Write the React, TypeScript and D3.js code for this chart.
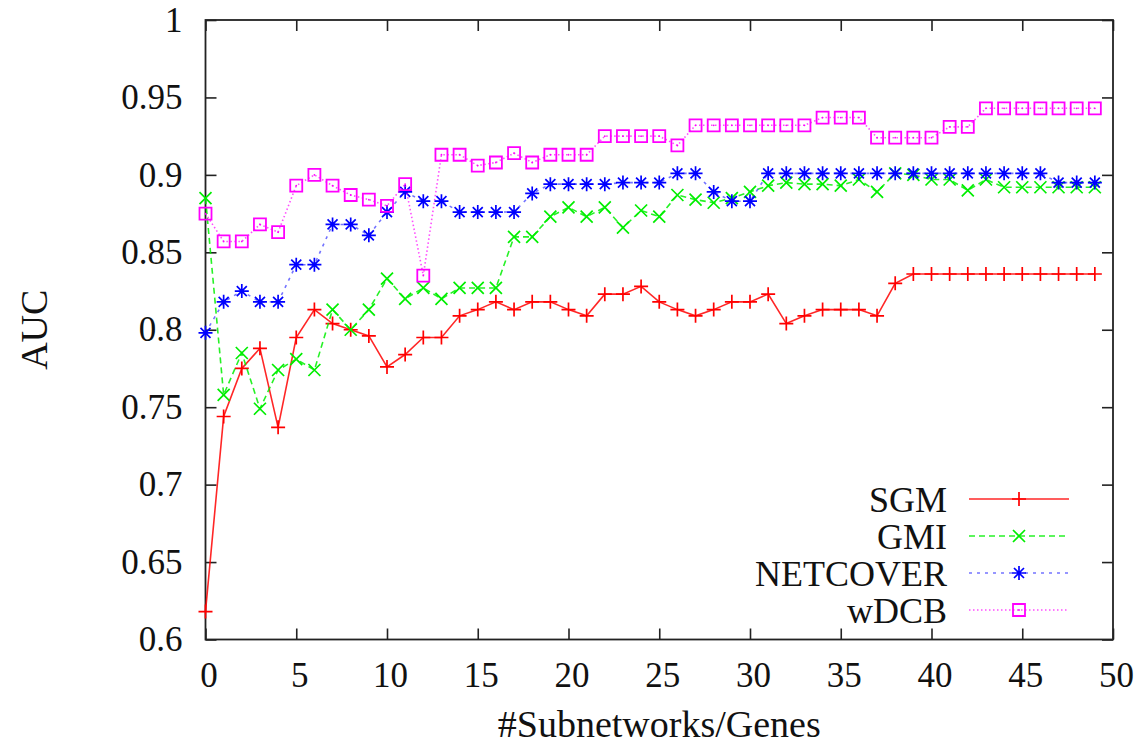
import React, { useEffect, useRef } from "react";
import * as d3 from "d3";

// x positions 0..49
const xs = [
  0, 1, 2, 3, 4, 5, 6, 7, 8, 9, 10, 11, 12, 13, 14, 15, 16, 17, 18, 19, 20, 21, 22, 23, 24,
  25, 26, 27, 28, 29, 30, 31, 32, 33, 34, 35, 36, 37, 38, 39, 40, 41, 42, 43, 44, 45, 46, 47, 48, 49,
];

const sgm = [
  0.618, 0.744, 0.775, 0.788, 0.737, 0.795, 0.813, 0.804, 0.8, 0.796,
  0.776, 0.784, 0.795, 0.795, 0.809, 0.813, 0.818, 0.813, 0.818, 0.818,
  0.813, 0.809, 0.823, 0.823, 0.828, 0.818, 0.813, 0.809, 0.813, 0.818,
  0.818, 0.823, 0.804, 0.809, 0.813, 0.813, 0.813, 0.809, 0.83, 0.836,
  0.836, 0.836, 0.836, 0.836, 0.836, 0.836, 0.836, 0.836, 0.836, 0.836,
];

const gmi = [
  0.885, 0.758, 0.785, 0.749, 0.774, 0.781, 0.774, 0.813, 0.8, 0.813,
  0.833, 0.82, 0.827, 0.82, 0.827, 0.827, 0.827, 0.86, 0.86, 0.873,
  0.879, 0.873, 0.879, 0.866, 0.877, 0.873, 0.887, 0.884, 0.882, 0.885,
  0.889, 0.893, 0.895, 0.894, 0.894, 0.893, 0.897, 0.889, 0.901, 0.9,
  0.897, 0.897, 0.89, 0.897, 0.892, 0.892, 0.892, 0.892, 0.892, 0.892,
];

const netcover = [
  0.798, 0.818, 0.825, 0.818, 0.818, 0.842, 0.842, 0.868, 0.868, 0.861,
  0.876, 0.889, 0.883, 0.883, 0.876, 0.876, 0.876, 0.876, 0.888, 0.894,
  0.894, 0.894, 0.894, 0.895, 0.895, 0.895, 0.901, 0.901, 0.889, 0.883,
  0.883, 0.901, 0.901, 0.901, 0.901, 0.901, 0.901, 0.901, 0.901, 0.901,
  0.901, 0.901, 0.901, 0.901, 0.901, 0.901, 0.901, 0.895, 0.895, 0.895,
];

const wdcb = [
  0.875, 0.857, 0.857, 0.868, 0.863, 0.893, 0.9, 0.893, 0.887, 0.884,
  0.88, 0.894, 0.835, 0.913, 0.913, 0.906, 0.908, 0.914, 0.908, 0.913,
  0.913, 0.913, 0.925, 0.925, 0.925, 0.925, 0.919, 0.932, 0.932, 0.932,
  0.932, 0.932, 0.932, 0.932, 0.937, 0.937, 0.937, 0.924, 0.924, 0.924,
  0.924, 0.931, 0.931, 0.943, 0.943, 0.943, 0.943, 0.943, 0.943, 0.943,
];

const xTicks = [0, 5, 10, 15, 20, 25, 30, 35, 40, 45, 50];
const yTicks = [0.6, 0.65, 0.7, 0.75, 0.8, 0.85, 0.9, 0.95, 1];

const seriesNames = ["SGM", "GMI", "NETCOVER", "wDCB"];

const FONT = "'Liberation Serif', 'Times New Roman', serif";

const App = () => {
  const ref = useRef<SVGSVGElement>(null);

  const W = 1142;
  const H = 749;
  const left = 205.5;
  const right = 1113;
  const top = 20;
  const bottom = 639.5;

  useEffect(() => {
    const svg = d3.select(ref.current);
    svg.selectAll("*").remove();

    const xScale = d3.scaleLinear().domain([0, 50]).range([left, right]);
    const yScale = d3.scaleLinear().domain([0.6, 1]).range([bottom, top]);

    const fmt = (d) => String(+(+d).toFixed(2));

    const styleAxis = (g, showText) => {
      g.select(".domain").remove();
      g.selectAll(".tick line").attr("stroke", "#222").attr("stroke-width", 1.6);
      g.selectAll("text")
        .attr("fill", "#111")
        .style("font-family", FONT)
        .style("font-size", "35px");
      if (!showText) g.selectAll("text").remove();
    };

    // left axis
    svg
      .append("g")
      .attr("transform", `translate(${left},0)`)
      .call(d3.axisLeft(yScale).tickValues(yTicks).tickFormat(fmt).tickSizeInner(-11).tickSizeOuter(0).tickPadding(23))
      .call((g) => styleAxis(g, true));
    // right mirrored ticks
    svg
      .append("g")
      .attr("transform", `translate(${right},0)`)
      .call(d3.axisRight(yScale).tickValues(yTicks).tickSizeInner(-11).tickSizeOuter(0))
      .call((g) => styleAxis(g, false));
    // bottom axis
    svg
      .append("g")
      .attr("transform", `translate(0,${bottom})`)
      .call(d3.axisBottom(xScale).tickValues(xTicks).tickFormat(fmt).tickSizeInner(-11).tickSizeOuter(0).tickPadding(23))
      .call((g) => {
        styleAxis(g, true);
        g.selectAll("text").attr("dx", 3);
      });
    // top mirrored ticks
    svg
      .append("g")
      .attr("transform", `translate(0,${top})`)
      .call(d3.axisTop(xScale).tickValues(xTicks).tickSizeInner(-11).tickSizeOuter(0))
      .call((g) => styleAxis(g, false));

    // frame
    svg
      .append("rect")
      .attr("x", left)
      .attr("y", top)
      .attr("width", right - left)
      .attr("height", bottom - top)
      .attr("fill", "none")
      .attr("stroke", "#222")
      .attr("stroke-width", 1.8);

    // axis titles
    svg
      .append("text")
      .attr("transform", `translate(47,${(top + bottom) / 2}) rotate(-90)`)
      .attr("text-anchor", "middle")
      .style("font-family", FONT)
      .style("font-size", "38px")
      .attr("fill", "#111")
      .text("AUC");
    svg
      .append("text")
      .attr("x", (left + right) / 2)
      .attr("y", 737)
      .attr("text-anchor", "middle")
      .style("font-family", FONT)
      .style("font-size", "38px")
      .attr("fill", "#111")
      .text("#Subnetworks/Genes");

    const styles = [
      { name: seriesNames[0], data: sgm, color: "#ff0000", dash: null, opacity: 0.85, marker: "plus" },
      { name: seriesNames[1], data: gmi, color: "#00ee00", dash: "6,4", opacity: 0.85, marker: "cross" },
      { name: seriesNames[2], data: netcover, color: "#0000ff", dash: "3,5", opacity: 0.55, marker: "star" },
      { name: seriesNames[3], data: wdcb, color: "#ff00ff", dash: "1.5,2.5", opacity: 0.7, marker: "square" },
    ];

    const markerPath = (type) => {
      if (type === "plus") return "M-7,0H7M0,-7V7";
      if (type === "cross") return "M-6,-6L6,6M-6,6L6,-6";
      if (type === "star") return "M-7,0H7M0,-7V7M-5,-5L5,5M-5,5L5,-5";
      return "M-6,-6H6V6H-6Z";
    };

    const line = d3
      .line()
      .x((d, i) => xScale(xs[i]))
      .y((d) => yScale(d));

    const drawMarker = (g, type, color, cx, cy) => {
      g.append("path")
        .attr("transform", `translate(${cx},${cy})`)
        .attr("d", markerPath(type))
        .attr("fill", "none")
        .attr("stroke", color)
        .attr("stroke-width", type === "square" ? 1.8 : 1.7);
      if (type === "square") {
        g.append("circle").attr("cx", cx).attr("cy", cy).attr("r", 0.9).attr("fill", color);
      }
    };

    const graph = svg.append("g");
    styles.forEach((s) => {
      graph
        .append("path")
        .datum(s.data)
        .attr("fill", "none")
        .attr("stroke", s.color)
        .attr("stroke-opacity", s.opacity)
        .attr("stroke-width", 1.6)
        .attr("stroke-dasharray", s.dash)
        .attr("d", line);
      s.data.forEach((v, i) => drawMarker(graph, s.marker, s.color, xScale(xs[i]), yScale(v)));
    });

    // legend
    const legendY = [499, 536, 573, 610];
    const legend = svg.append("g");
    styles.forEach((s, i) => {
      const y = legendY[i];
      legend
        .append("text")
        .attr("x", 947)
        .attr("y", y)
        .attr("dy", "0.35em")
        .attr("text-anchor", "end")
        .style("font-family", FONT)
        .style("font-size", "36px")
        .attr("fill", "#111")
        .text(s.name);
      legend
        .append("line")
        .attr("x1", 969)
        .attr("x2", 1069)
        .attr("y1", y)
        .attr("y2", y)
        .attr("stroke", s.color)
        .attr("stroke-opacity", s.opacity)
        .attr("stroke-width", 1.6)
        .attr("stroke-dasharray", s.dash);
      drawMarker(legend, s.marker, s.color, 1019, y);
    });
  }, []);

  return (
    <div>
      <svg
        ref={ref}
        width={W}
        height={H}
        style={{ position: "absolute", left: 0, top: 0, background: "#fff" }}
      ></svg>
    </div>
  );
};
export default App;
